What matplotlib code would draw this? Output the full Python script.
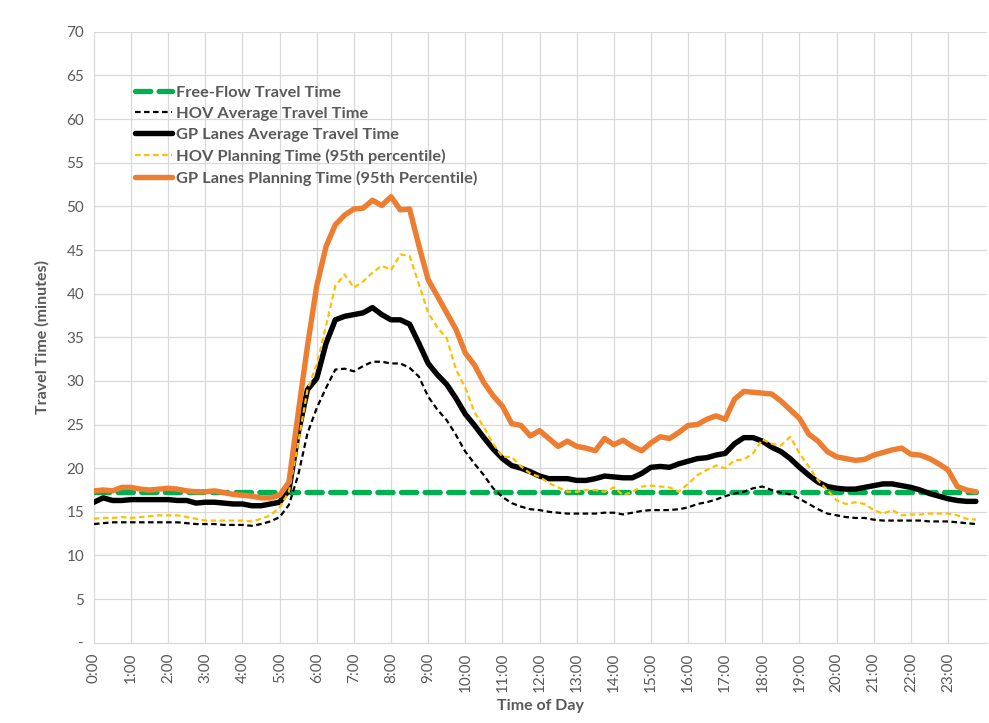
import matplotlib
matplotlib.use("Agg")
import matplotlib.pyplot as plt
import numpy as np

plt.rcParams['font.family'] = ['Lato', 'DejaVu Sans']
plt.rcParams['lines.scale_dashes'] = False

# 15-minute intervals, 0:00 .. 23:45
times = [f"{h}:{m:02d}" for h in range(24) for m in (0, 15, 30, 45)]
hour_labels = [f"{h}:00" for h in range(24)]

free_flow = [17.3] * 96

hov_avg = [13.6, 13.7, 13.8, 13.8, 13.8, 13.8, 13.8, 13.8, 13.8, 13.8, 13.7, 13.6,
           13.6, 13.6, 13.5, 13.5, 13.5, 13.4, 13.6, 13.9,
           14.4, 15.8, 19.2, 24.0, 26.9, 29.2, 31.3, 31.4, 31.1, 31.7, 32.2, 32.2,
           32.0, 32.0, 31.5, 30.5, 28.2, 26.7, 25.5, 23.8,
           21.9, 20.5, 19.2, 17.7, 16.7, 16.0, 15.6, 15.3, 15.2, 15.0, 14.9, 14.8,
           14.8, 14.8, 14.8, 14.9, 14.9, 14.7, 14.9, 15.1, 15.2, 15.2, 15.2, 15.3,
           15.5, 15.9, 16.1, 16.4, 16.8, 17.1, 17.3, 17.7, 17.9, 17.5, 17.2, 17.0,
           16.5, 15.9, 15.3, 14.8, 14.6, 14.4, 14.3, 14.3, 14.1, 14.0, 14.0, 14.0,
           14.0, 14.0, 13.9, 13.9, 13.9, 13.8, 13.7, 13.6]

gp_avg = [16.1, 16.6, 16.3, 16.3, 16.4, 16.4, 16.4, 16.4, 16.4, 16.3, 16.3, 16.0,
          16.1, 16.1, 16.0, 15.9, 15.9, 15.7, 15.7, 15.9,
          16.1, 17.5, 24.0, 29.0, 30.3, 34.3, 37.0, 37.4, 37.6, 37.8, 38.4, 37.6,
          37.0, 37.0, 36.5, 34.3, 32.0, 30.7, 29.6, 28.0,
          26.2, 24.9, 23.5, 22.2, 21.1, 20.3, 20.0, 19.6, 19.1, 18.8, 18.8, 18.8,
          18.6, 18.6, 18.8, 19.1, 19.0, 18.9, 18.9, 19.4, 20.1, 20.2, 20.1, 20.5,
          20.8, 21.1, 21.2, 21.5, 21.7, 22.8, 23.5, 23.5, 23.1, 22.4, 21.9, 21.1,
          20.1, 19.2, 18.4, 17.9, 17.7, 17.6, 17.6, 17.8, 18.0, 18.2, 18.2, 18.0,
          17.8, 17.5, 17.1, 16.8, 16.5, 16.3, 16.2, 16.2]

hov_plan = [14.2, 14.3, 14.3, 14.4, 14.3, 14.4, 14.5, 14.6, 14.6, 14.6, 14.4, 14.2,
            14.0, 14.0, 14.0, 14.0, 14.0, 13.9, 14.2, 14.6,
            15.5, 17.3, 22.9, 29.0, 31.9, 36.3, 40.9, 42.2, 40.7, 41.4, 42.4, 43.2,
            42.7, 44.5, 44.3, 41.1, 37.8, 36.1, 34.9, 31.3,
            29.2, 26.4, 24.7, 22.8, 21.3, 21.3, 20.2, 19.4, 19.0, 18.3, 17.8, 17.3,
            17.3, 17.5, 17.5, 17.3, 17.8, 16.9, 17.3, 17.9, 18.0, 17.9, 17.8, 17.3,
            18.2, 19.2, 19.8, 20.3, 20.0, 20.9, 21.0, 21.7, 23.3, 22.8, 22.6, 23.6,
            21.7, 20.2, 18.6, 17.5, 16.3, 15.9, 16.1, 15.9, 15.2, 14.8, 15.2, 14.6,
            14.7, 14.7, 14.8, 14.8, 14.8, 14.6, 14.2, 14.1]

gp_plan = [17.4, 17.5, 17.4, 17.8, 17.8, 17.6, 17.5, 17.6, 17.7, 17.6, 17.4, 17.3,
           17.3, 17.4, 17.2, 17.0, 16.9, 16.8, 16.6, 16.6,
           16.9, 18.4, 26.3, 34.0, 40.9, 45.4, 47.9, 49.0, 49.7, 49.8, 50.7, 50.1,
           51.1, 49.6, 49.7, 45.5, 41.6, 39.7, 37.8, 35.9,
           33.2, 31.8, 29.8, 28.3, 27.1, 25.1, 24.9, 23.7, 24.3, 23.4, 22.5, 23.1,
           22.5, 22.3, 22.0, 23.4, 22.7, 23.2, 22.5, 22.0, 22.9, 23.6, 23.4, 24.1,
           24.9, 25.0, 25.6, 26.0, 25.6, 27.9, 28.8, 28.7, 28.6, 28.5, 27.7, 26.7,
           25.7, 23.9, 23.1, 21.9, 21.3, 21.1, 20.9, 21.0, 21.5, 21.8, 22.1, 22.3,
           21.6, 21.5, 21.1, 20.5, 19.8, 17.9, 17.5, 17.3]

x = np.arange(len(times)) / 4.0

fig = plt.figure(figsize=(9.89, 7.23), dpi=100)
ax = fig.add_axes([0.095, 0.111, 0.903, 0.845])

ax.plot(x, free_flow, color='#00b050', linewidth=3.8, dashes=(11, 6),
        dash_capstyle='round', label='Free-Flow Travel Time', zorder=3)
ax.plot(x, hov_avg, color='black', linewidth=1.6, dashes=(4, 2.5),
        label='HOV Average Travel Time', zorder=4)
ax.plot(x, gp_avg, color='black', linewidth=3.9, solid_capstyle='round',
        solid_joinstyle='round', label='GP Lanes Average Travel Time', zorder=5)
ax.plot(x, hov_plan, color='#ffc000', linewidth=1.6, dashes=(4, 2.5),
        label='HOV Planning Time (95th percentile)', zorder=6)
ax.plot(x, gp_plan, color='#ed7d31', linewidth=3.9, solid_capstyle='round',
        solid_joinstyle='round', label='GP Lanes Planning Time (95th Percentile)', zorder=7)

ax.set_xlim(0, 24.05)
ax.set_ylim(0, 70)
ax.set_xticks(np.arange(24))
ax.set_xticklabels(hour_labels, rotation=90)
ax.set_yticks(np.arange(0, 75, 5))
ax.set_yticklabels(['-'] + [str(v) for v in range(5, 75, 5)])

ax.grid(True, color='#d9d9d9', linewidth=0.9)
ax.set_axisbelow(True)
for s in ['top', 'right']:
    ax.spines[s].set_visible(False)
for s in ['left', 'bottom']:
    ax.spines[s].set_color('#d9d9d9')
ax.tick_params(length=0, labelsize=11, colors='#595959', pad=7)

ax.set_xlabel('Time of Day', fontsize=11.5, fontweight='bold', color='#595959', labelpad=5)
ax.set_ylabel('Travel Time (minutes)', fontsize=11.5, fontweight='bold', color='#595959', labelpad=12)

leg = ax.legend(loc='upper left', bbox_to_anchor=(0.03, 0.937), frameon=False,
                handlelength=2.2, handletextpad=0.3, labelspacing=0.42,
                prop={'size': 11.8, 'weight': 'bold'})
for t in leg.get_texts():
    t.set_color('#595959')

fig.savefig('out.png', dpi=100)
